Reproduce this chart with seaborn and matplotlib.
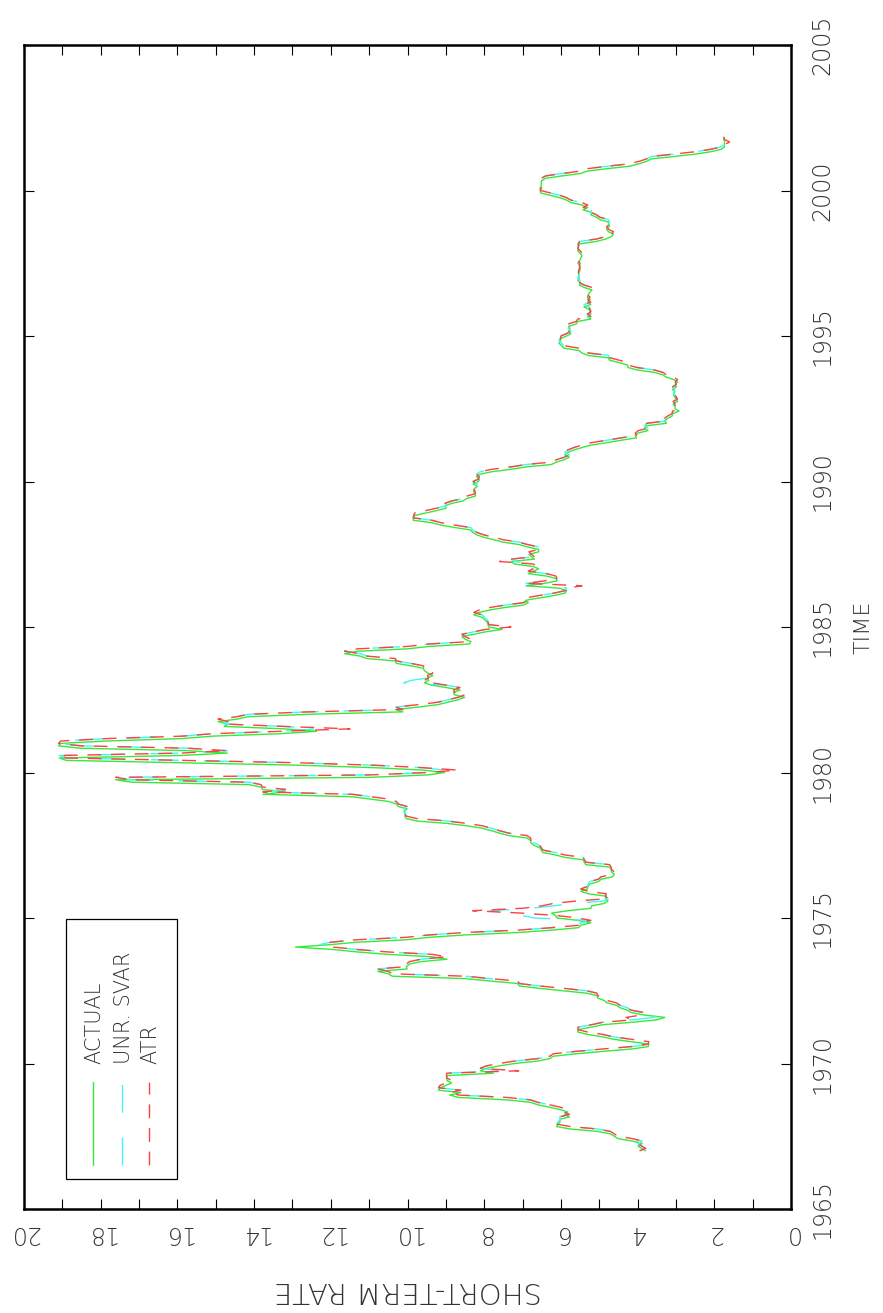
import numpy as np
import pandas as pd
import matplotlib
matplotlib.use("Agg")
import matplotlib.pyplot as plt
import seaborn as sns

# Monthly short-term rate, first observation plotted at 1967.0
START = 1967.0

ACTUAL = [
    3.79, 3.90, 3.99, 3.88, 4.13, 4.51,
    4.61, 4.71, 5.05, 5.76, 6.11, 6.07, 6.02, 6.03, 5.78, 5.91, 5.82, 6.02,
    6.30, 6.61, 6.79, 7.41, 8.67, 8.90, 8.61, 9.19, 9.15, 9.00, 8.85, 8.97,
    8.98, 8.98, 7.76, 8.10, 7.95, 7.61, 7.21, 6.61, 6.29, 6.20, 5.60, 4.90,
    4.14, 3.72, 3.71, 4.16, 4.63, 4.91, 5.31, 5.56, 5.55, 5.20, 4.91, 4.14,
    3.50, 3.29, 3.83, 4.17, 4.27, 4.46, 4.55, 4.80, 4.87, 5.04, 5.06, 5.33,
    5.94, 6.58, 7.09, 7.12, 7.84, 8.49, 10.40, 10.50, 10.78, 10.01, 10.03, 9.95,
    9.65, 8.97, 9.35, 10.51, 11.31, 11.93, 12.92, 12.01, 11.34, 10.06, 9.45, 8.53,
    7.13, 6.24, 5.54, 5.49, 5.22, 5.55, 6.10, 6.14, 6.24, 5.82, 5.22, 5.20,
    4.87, 4.77, 4.84, 4.82, 5.29, 5.48, 5.31, 5.29, 5.25, 5.02, 4.95, 4.65,
    4.61, 4.68, 4.69, 4.73, 5.35, 5.39, 5.42, 5.90, 6.14, 6.47, 6.51, 6.56,
    6.70, 6.78, 6.79, 6.89, 7.36, 7.60, 7.81, 8.04, 8.45, 8.96, 9.76, 10.03,
    10.07, 10.06, 10.09, 10.01, 10.24, 10.29, 10.47, 10.94, 11.43, 13.77, 13.18, 13.78,
    13.82, 14.13, 17.19, 17.61, 10.98, 9.47, 9.03, 9.61, 10.87, 12.81, 15.85, 18.90,
    19.08, 15.93, 14.70, 15.72, 18.52, 19.10, 19.04, 17.82, 15.87, 15.08, 13.31, 12.37,
    13.22, 14.78, 14.68, 14.94, 14.45, 14.15, 12.59, 10.12, 10.31, 9.71, 9.20, 8.95,
    8.68, 8.51, 8.77, 8.80, 8.63, 8.98, 9.37, 9.56, 9.45, 9.48, 9.34, 9.47,
    9.56, 9.59, 9.91, 10.29, 10.32, 11.06, 11.23, 11.64, 11.30, 9.99, 9.43, 8.38,
    8.35, 8.50, 8.58, 8.27, 7.97, 7.53, 7.88, 7.90, 7.92, 7.99, 8.05, 8.27,
    8.14, 7.86, 7.48, 6.99, 6.85, 6.92, 6.56, 6.17, 5.89, 5.85, 6.04, 6.91,
    6.43, 6.10, 6.13, 6.37, 6.85, 6.73, 6.58, 6.73, 7.22, 7.29, 6.69, 6.77,
    6.83, 6.58, 6.58, 6.87, 7.09, 7.51, 7.75, 8.01, 8.19, 8.30, 8.35, 8.76,
    9.12, 9.36, 9.85, 9.84, 9.81, 9.53, 9.24, 8.99, 9.02, 8.84, 8.55, 8.45,
    8.23, 8.24, 8.28, 8.26, 8.18, 8.29, 8.15, 8.13, 8.20, 8.11, 7.81, 7.31,
    6.91, 6.25, 6.12, 5.91, 5.78, 5.90, 5.82, 5.66, 5.45, 5.21, 4.81, 4.43,
    4.03, 4.06, 3.98, 3.73, 3.82, 3.76, 3.25, 3.30, 3.22, 3.10, 3.09, 2.92,
    3.02, 3.03, 3.07, 2.96, 3.00, 3.04, 3.06, 3.03, 3.09, 2.99, 3.02, 2.96,
    3.05, 3.25, 3.34, 3.56, 4.01, 4.25, 4.26, 4.47, 4.73, 4.76, 5.29, 5.45,
    5.53, 5.92, 5.98, 6.05, 6.01, 6.00, 5.85, 5.74, 5.80, 5.76, 5.80, 5.60,
    5.56, 5.22, 5.31, 5.22, 5.24, 5.27, 5.40, 5.22, 5.30, 5.24, 5.31, 5.29,
    5.25, 5.19, 5.39, 5.51, 5.50, 5.56, 5.52, 5.54, 5.54, 5.50, 5.52, 5.50,
    5.56, 5.51, 5.49, 5.45, 5.49, 5.56, 5.54, 5.55, 5.51, 5.07, 4.83, 4.68,
    4.63, 4.76, 4.81, 4.74, 4.74, 4.76, 4.99, 5.07, 5.22, 5.20, 5.42, 5.30,
    5.45, 5.73, 5.85, 6.02, 6.27, 6.53, 6.54, 6.50, 6.52, 6.51, 6.51, 6.40,
    5.98, 5.49, 5.31, 4.80, 4.21, 3.97, 3.77, 3.65, 3.07, 2.49, 2.09, 1.82,
    1.73, 1.74, 1.73, 1.75, 1.75,
]

# One-step-ahead predictions, unrestricted SVAR
UNR_SVAR = [
    3.92, 3.79, 3.90, 3.99, 3.88, 4.13,
    4.51, 4.61, 4.71, 5.05, 5.76, 6.11, 6.07, 6.02, 6.03, 5.78, 5.91, 5.82,
    6.02, 6.30, 6.61, 6.79, 7.41, 8.67, 8.90, 8.61, 9.19, 9.15, 9.00, 8.85,
    8.97, 8.98, 8.98, 7.60, 8.10, 7.95, 7.61, 7.21, 6.61, 6.29, 6.20, 5.60,
    4.90, 4.14, 3.72, 3.71, 4.16, 4.63, 4.91, 5.31, 5.56, 5.55, 5.20, 4.91,
    4.14, 3.60, 3.35, 3.83, 4.17, 4.27, 4.46, 4.55, 4.80, 4.87, 5.04, 5.06,
    5.33, 5.94, 6.58, 7.09, 7.12, 7.84, 8.49, 10.40, 10.50, 10.78, 10.01, 10.03,
    9.95, 9.65, 8.97, 9.35, 10.51, 11.31, 11.93, 12.30, 12.01, 11.34, 10.06, 9.45,
    8.53, 7.13, 6.24, 5.54, 5.49, 5.22, 6.70, 7.00, 7.30, 7.85, 6.80, 6.20,
    5.70, 4.87, 4.77, 4.84, 4.82, 5.29, 5.48, 5.31, 5.29, 5.25, 5.02, 4.95,
    4.65, 4.61, 4.68, 4.69, 4.73, 5.35, 5.39, 5.42, 5.90, 6.14, 6.47, 6.51,
    6.56, 6.70, 6.78, 6.79, 6.89, 7.36, 7.60, 7.81, 8.04, 8.45, 8.96, 9.76,
    10.03, 10.07, 10.06, 10.09, 10.01, 10.24, 10.29, 10.47, 10.94, 11.43, 13.77, 13.18,
    13.78, 13.82, 14.13, 17.19, 17.61, 10.98, 9.47, 9.03, 9.61, 10.87, 12.81, 15.85,
    18.90, 19.08, 15.93, 14.70, 15.72, 18.52, 19.10, 19.04, 17.82, 15.87, 15.08, 13.31,
    12.37, 13.22, 14.78, 14.68, 14.94, 14.45, 14.15, 12.59, 10.12, 10.31, 9.71, 9.20,
    8.95, 8.68, 8.51, 8.77, 8.80, 8.63, 8.98, 10.10, 9.90, 9.45, 9.48, 9.34,
    9.47, 9.56, 9.59, 9.91, 10.29, 10.32, 11.06, 11.23, 11.64, 11.30, 9.99, 9.43,
    8.38, 8.35, 8.50, 8.58, 8.27, 7.97, 7.53, 7.88, 7.90, 7.92, 7.99, 8.05,
    8.27, 8.14, 7.86, 7.48, 6.99, 6.85, 6.92, 6.56, 6.17, 5.89, 5.85, 6.04,
    6.91, 6.43, 6.10, 6.13, 6.37, 6.85, 6.73, 6.58, 6.73, 7.22, 7.29, 6.69,
    6.77, 6.83, 6.58, 6.58, 6.87, 7.09, 7.51, 7.75, 8.01, 8.19, 8.30, 8.35,
    8.76, 9.12, 9.36, 9.85, 9.84, 9.81, 9.53, 9.24, 8.99, 9.02, 8.84, 8.55,
    8.45, 8.23, 8.24, 8.28, 8.26, 8.18, 8.29, 8.15, 8.13, 8.20, 8.11, 7.81,
    7.31, 6.91, 6.25, 6.12, 5.91, 5.78, 5.90, 5.82, 5.66, 5.45, 5.21, 4.81,
    4.43, 4.03, 4.06, 3.98, 3.73, 3.82, 3.76, 3.25, 3.30, 3.22, 3.10, 3.09,
    2.92, 3.02, 3.03, 3.07, 2.96, 3.00, 3.04, 3.06, 3.03, 3.09, 2.99, 3.02,
    2.96, 3.05, 3.25, 3.34, 3.56, 4.01, 4.25, 4.26, 4.47, 4.73, 4.76, 5.29,
    5.45, 5.53, 5.92, 5.98, 6.05, 6.01, 6.00, 5.85, 5.74, 5.80, 5.76, 5.80,
    5.60, 5.56, 5.22, 5.31, 5.22, 5.24, 5.27, 5.40, 5.22, 5.30, 5.24, 5.31,
    5.29, 5.25, 5.19, 5.39, 5.51, 5.50, 5.56, 5.52, 5.54, 5.54, 5.50, 5.52,
    5.50, 5.56, 5.51, 5.49, 5.45, 5.49, 5.56, 5.54, 5.55, 5.51, 5.07, 4.83,
    4.68, 4.63, 4.76, 4.81, 4.74, 4.74, 4.76, 4.99, 5.07, 5.22, 5.20, 5.42,
    5.30, 5.45, 5.73, 5.85, 6.02, 6.27, 6.53, 6.54, 6.50, 6.52, 6.51, 6.51,
    6.40, 5.98, 5.49, 5.31, 4.80, 4.21, 3.97, 3.77, 3.65, 3.07, 2.49, 2.09,
    1.82, 1.73, 1.74, 1.73, 1.75,
]

# One-step-ahead predictions, ATR model
ATR = [
    3.95, 3.79, 3.90, 3.99, 3.88, 4.13,
    4.51, 4.61, 4.71, 5.05, 5.76, 6.11, 6.07, 6.02, 6.03, 5.78, 5.91, 5.82,
    6.02, 6.30, 6.61, 6.79, 7.41, 8.67, 8.90, 8.61, 9.19, 9.15, 9.00, 8.85,
    8.97, 8.98, 8.98, 7.10, 8.10, 7.95, 7.61, 7.21, 6.61, 6.29, 6.20, 5.60,
    4.90, 4.14, 3.72, 3.71, 4.16, 4.63, 4.91, 5.31, 5.56, 5.55, 5.20, 4.91,
    4.14, 4.30, 3.90, 3.83, 4.17, 4.27, 4.46, 4.55, 4.80, 4.87, 5.04, 5.06,
    5.33, 5.94, 6.58, 7.09, 7.12, 7.84, 8.49, 10.40, 10.50, 10.78, 10.01, 10.03,
    9.95, 9.65, 8.97, 9.35, 10.51, 11.31, 11.93, 12.10, 12.01, 11.34, 10.06, 9.45,
    8.53, 7.13, 6.24, 5.54, 5.49, 5.22, 5.55, 6.10, 7.00, 8.30, 7.00, 6.50,
    6.20, 5.60, 4.77, 4.84, 4.82, 5.29, 5.48, 5.31, 5.29, 5.25, 5.02, 4.95,
    4.65, 4.61, 4.68, 4.69, 4.73, 5.35, 5.39, 5.42, 5.90, 6.14, 6.47, 6.51,
    6.56, 6.70, 6.78, 6.79, 6.89, 7.36, 7.60, 7.81, 8.04, 8.45, 8.96, 9.76,
    10.03, 10.07, 10.06, 10.09, 10.01, 10.24, 10.29, 10.47, 10.94, 11.43, 13.77, 13.18,
    13.78, 13.82, 14.13, 17.19, 17.61, 10.98, 9.47, 8.70, 9.61, 10.87, 12.81, 15.85,
    18.90, 19.08, 15.93, 14.70, 15.72, 18.52, 19.10, 19.04, 17.82, 15.87, 15.08, 13.31,
    11.50, 13.22, 14.78, 14.68, 14.94, 14.45, 14.15, 12.59, 10.12, 10.31, 9.71, 9.20,
    8.95, 8.68, 8.51, 8.77, 8.80, 8.63, 8.98, 9.37, 9.56, 9.45, 9.48, 9.34,
    9.47, 9.56, 9.59, 9.91, 10.29, 10.32, 11.06, 11.23, 11.64, 11.30, 9.99, 9.43,
    8.38, 8.35, 8.50, 8.58, 8.27, 7.97, 7.30, 7.88, 7.90, 7.92, 7.99, 8.05,
    8.27, 8.14, 7.86, 7.48, 6.99, 6.85, 6.92, 6.56, 6.17, 5.89, 5.85, 5.45,
    6.91, 6.43, 6.10, 6.13, 6.37, 6.85, 6.73, 6.58, 6.73, 7.60, 7.29, 6.69,
    6.77, 6.83, 6.58, 6.58, 6.87, 7.09, 7.51, 7.75, 8.01, 8.19, 8.30, 8.35,
    8.76, 9.12, 9.36, 9.85, 9.84, 9.81, 9.53, 9.24, 8.99, 9.02, 8.84, 8.55,
    8.45, 8.23, 8.24, 8.28, 8.26, 8.18, 8.29, 8.15, 8.13, 8.20, 8.11, 7.81,
    7.31, 6.91, 6.25, 6.12, 5.91, 5.78, 5.90, 5.82, 5.66, 5.45, 5.21, 4.81,
    4.43, 4.03, 4.06, 3.98, 3.73, 3.82, 3.76, 3.25, 3.30, 3.22, 3.10, 3.09,
    2.92, 3.02, 3.03, 3.07, 2.96, 3.00, 3.04, 3.06, 3.03, 3.09, 2.99, 3.02,
    2.96, 3.05, 3.25, 3.34, 3.56, 4.01, 4.25, 4.26, 4.47, 4.73, 4.76, 5.29,
    5.45, 5.53, 5.92, 5.98, 6.05, 6.01, 6.00, 5.85, 5.74, 5.80, 5.76, 5.80,
    5.60, 5.56, 5.22, 5.31, 5.22, 5.24, 5.27, 5.40, 5.22, 5.30, 5.24, 5.31,
    5.29, 5.25, 5.19, 5.39, 5.51, 5.50, 5.56, 5.52, 5.54, 5.54, 5.50, 5.52,
    5.50, 5.56, 5.51, 5.49, 5.45, 5.49, 5.56, 5.54, 5.55, 5.51, 5.07, 4.83,
    4.68, 4.63, 4.76, 4.81, 4.74, 4.74, 4.76, 4.99, 5.07, 5.22, 5.20, 5.42,
    5.30, 5.45, 5.73, 5.85, 6.02, 6.27, 6.53, 6.54, 6.50, 6.52, 6.51, 6.51,
    6.40, 5.98, 5.49, 5.31, 4.80, 4.21, 3.97, 3.77, 3.65, 3.07, 2.49, 2.09,
    1.82, 1.73, 1.60, 1.73, 1.75,
]

SERIES = ["ACTUAL", "UNR. SVAR", "ATR"]
RATE_TICKS = [0, 2, 4, 6, 8, 10, 12, 14, 16, 18, 20]
TIME_TICKS = [1965, 1970, 1975, 1980, 1985, 1990, 1995, 2000, 2005]

GREEN = "#3ae83a"
CYAN = "#45f5f5"
RED = "#ff4040"
INK = "#333333"

sns.set_theme(style="white")
plt.rcParams["font.family"] = ["DejaVu Sans"]
plt.rcParams["font.weight"] = "light"
plt.rcParams["axes.labelweight"] = "light"
plt.rcParams["lines.scale_dashes"] = False

time = START + np.arange(len(ACTUAL)) / 12.0
df = pd.DataFrame({"time": time, "ACTUAL": ACTUAL,
                   "UNR. SVAR": UNR_SVAR, "ATR": ATR})

W, H = 883, 1313
fig = plt.figure(figsize=(W / 100, H / 100), dpi=100)
L, R, T, B = 24, 791, 45, 1209
ax = fig.add_axes([L / W, 1 - B / H, (R - L) / W, (B - T) / H])

styles = {
    "ACTUAL": dict(color=GREEN, linestyle="-"),
    "UNR. SVAR": dict(color=CYAN, linestyle=(0, (20, 18))),
    "ATR": dict(color=RED, linestyle=(0, (10, 7))),
}
for name in SERIES:
    sns.lineplot(data=df, x=name, y="time", sort=False, estimator=None,
                 linewidth=1.0, ax=ax, **styles[name])

ax.set_xlim(20, 0)
ax.set_ylim(1965, 2005)
ax.set_xticks(RATE_TICKS)
ax.set_xticks(range(0, 21), minor=True)
ax.set_yticks(TIME_TICKS)
ax.set_xticklabels([str(v) for v in RATE_TICKS], rotation=180, fontsize=17,
                   color=INK, fontweight="light")
ax.set_yticklabels([str(v) for v in TIME_TICKS], rotation=90, fontsize=17,
                   va="center", color=INK, fontweight="light")
ax.tick_params(axis="x", which="both", direction="in", length=7.5, width=0.8,
               top=True, bottom=True, pad=9, colors="black", labelcolor=INK)
ax.tick_params(axis="y", which="both", direction="in", length=7.5, width=0.8,
               left=True, right=True, labelleft=False, labelright=True,
               pad=14, colors="black", labelcolor=INK)
for s in ax.spines.values():
    s.set_linewidth(1.8)
    s.set_color("black")

ax.set_xlabel("SHORT-TERM RATE", fontsize=21, rotation=180, labelpad=22,
              color=INK, fontweight="light")
ax.yaxis.set_label_position("right")
ax.set_ylabel("TIME", fontsize=16, rotation=90, labelpad=14, color=INK,
              fontweight="light")

# legend panel with vertical keys and rotated labels
ax.add_patch(plt.Rectangle((0.0548, 0.0258), 0.1447, 0.2234,
                           transform=ax.transAxes, fill=False,
                           edgecolor="black", linewidth=0.9, zorder=5))
key_x = [0.090, 0.1278, 0.163]
for name, kx in zip(SERIES, key_x):
    ax.plot([kx, kx], [0.0378, 0.109], transform=ax.transAxes,
            linewidth=1.0, zorder=6, **styles[name])
    ax.text(kx + 0.002, 0.1246, name, transform=ax.transAxes, rotation=90,
            ha="center", va="bottom", fontsize=15, zorder=6, color=INK,
            fontweight="light")

fig.savefig("out.png", dpi=100)
